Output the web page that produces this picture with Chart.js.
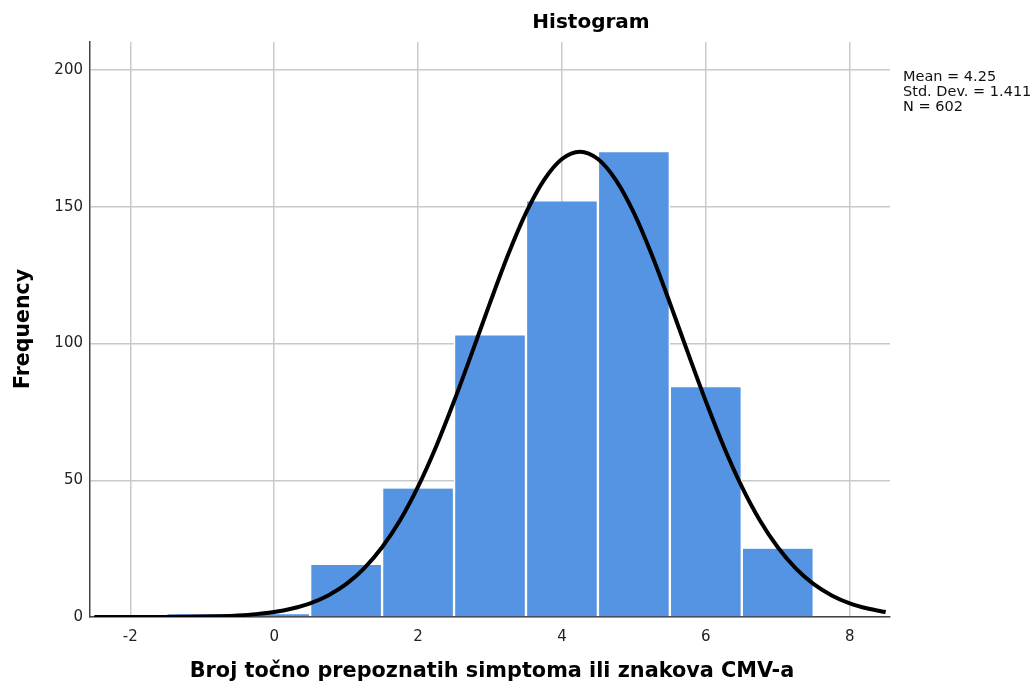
<!DOCTYPE html>
<html lang="hr">
<head>
    <meta charset="UTF-8">
    <title>Histogram</title>
    <script src="https://cdn.jsdelivr.net/npm/chart.js@4.4.0/dist/chart.umd.min.js"></script>
    <style>
        html, body { margin: 0; padding: 0; background: #ffffff; }
        #wrap { width: 1034px; height: 686px; }
    </style>
</head>
<body>
    <div id="wrap"><canvas id="histChart" width="1034" height="686"></canvas></div>

    <script>
        // histogram bins (value -> frequency)
        const binCenters = [-1, 0, 1, 2, 3, 4, 5, 6, 7];
        const binCounts = [1, 1, 19, 47, 103, 152, 170, 84, 25];

        // normal curve
        const curveX = [-2.5, -2.25, -2, -1.75, -1.5, -1.25, -1, -0.75, -0.5, -0.25, 0, 0.25, 0.5, 0.75, 1, 1.25, 1.5, 1.75, 2, 2.25, 2.5, 2.75, 3, 3.25, 3.5, 3.75, 4, 4.25, 4.5, 4.75, 5, 5.25, 5.5, 5.75, 6, 6.25, 6.5, 6.75, 7, 7.25, 7.5, 7.75, 8, 8.25, 8.5];
        const curveY = [0.0, 0.0, 0.01, 0.02, 0.04, 0.09, 0.17, 0.32, 0.59, 1.05, 1.8, 3.1, 5.0, 7.9, 12.0, 17.8, 25.5, 35.4, 47.7, 62.3, 78.9, 96.7, 114.9, 132.4, 147.8, 159.8, 167.5, 170.2, 167.5, 159.8, 147.8, 132.4, 114.9, 96.7, 78.9, 62.3, 47.7, 35.4, 25.5, 17.8, 12.0, 7.9, 5.0, 3.1, 1.8];

        const xTicks = [-2, 0, 2, 4, 6, 8];
        const yTicks = [0, 50, 100, 150, 200];

        const statsLines = ['Mean = 4.25', 'Std. Dev. = 1.411', 'N = 602'];
        const chartTitle = 'Histogram';
        const xTitle = 'Broj točno prepoznatih simptoma ili znakova CMV-a';
        const yTitle = 'Frequency';

        const FONT = '"DejaVu Sans", Verdana, sans-serif';

        // draws titles and the stats box (SPSS style)
        const textPlugin = {
            id: 'spssText',
            afterDraw(chart) {
                const ctx = chart.ctx;
                const area = chart.chartArea;
                ctx.save();
                ctx.fillStyle = '#000';
                ctx.textAlign = 'center';
                ctx.textBaseline = 'middle';
                ctx.font = 'bold 20px ' + FONT;
                ctx.fillText(chartTitle, 591, 23);

                ctx.font = 'bold 20.8px ' + FONT;
                ctx.fillText(xTitle, 492, 672);

                ctx.translate(24, 329);
                ctx.rotate(-Math.PI / 2);
                ctx.font = 'bold 20.5px ' + FONT;
                ctx.fillText(yTitle, 0, 0);
                ctx.restore();

                ctx.save();
                ctx.fillStyle = '#111';
                ctx.font = '14.5px ' + FONT;
                ctx.textAlign = 'left';
                ctx.textBaseline = 'middle';
                statsLines.forEach((t, i) => ctx.fillText(t, area.right + 13, 77 + i * 15));
                ctx.restore();
            }
        };

        const ctx = document.getElementById('histChart').getContext('2d');
        const histChart = new Chart(ctx, {
            type: 'bar',
            data: {
                datasets: [{
                    type: 'line',
                    data: curveX.map((x, i) => ({ x: x, y: curveY[i] })),
                    borderColor: '#000000',
                    borderWidth: 4,
                    pointRadius: 0,
                    tension: 0.4,
                    cubicInterpolationMode: 'monotone',
                    fill: false,
                    order: 0
                }, {
                    data: binCenters.map((x, i) => ({ x: x, y: binCounts[i] })),
                    backgroundColor: '#5594e3',
                    borderColor: '#ffffff',
                    borderWidth: { left: 1.5, right: 1.5, top: 0, bottom: 0 },
                    barPercentage: 1.0,
                    categoryPercentage: 1.0,
                    order: 1
                }]
            },
            options: {
                responsive: false,
                animation: false,
                layout: { padding: { top: 42, right: 144, left: 0, bottom: 0 } },
                plugins: {
                    legend: { display: false },
                    tooltip: { enabled: false },
                    title: { display: false }
                },
                scales: {
                    x: {
                        type: 'linear',
                        min: -2.56,
                        max: 8.56,
                        offset: false,
                        afterBuildTicks: s => { s.ticks = xTicks.map(v => ({ value: v })); },
                        afterFit: s => { s.height = 69; },
                        grid: {
                            color: '#c9c9c9',
                            lineWidth: 1.5,
                            drawTicks: false,
                            offset: false
                        },
                        border: { color: '#444444', width: 1.5 },
                        ticks: {
                            color: '#222',
                            padding: 11,
                            font: { family: FONT, size: 15 }
                        }
                    },
                    y: {
                        min: 0,
                        max: 210.3,
                        afterBuildTicks: s => { s.ticks = yTicks.map(v => ({ value: v })); },
                        afterFit: s => { s.width = 90; },
                        grid: {
                            color: '#c9c9c9',
                            lineWidth: 1.5,
                            drawTicks: false
                        },
                        border: { color: '#444444', width: 1.5 },
                        ticks: {
                            color: '#222',
                            padding: 7,
                            font: { family: FONT, size: 15 }
                        }
                    }
                }
            },
            plugins: [textPlugin]
        });
    </script>
</body>
</html>
